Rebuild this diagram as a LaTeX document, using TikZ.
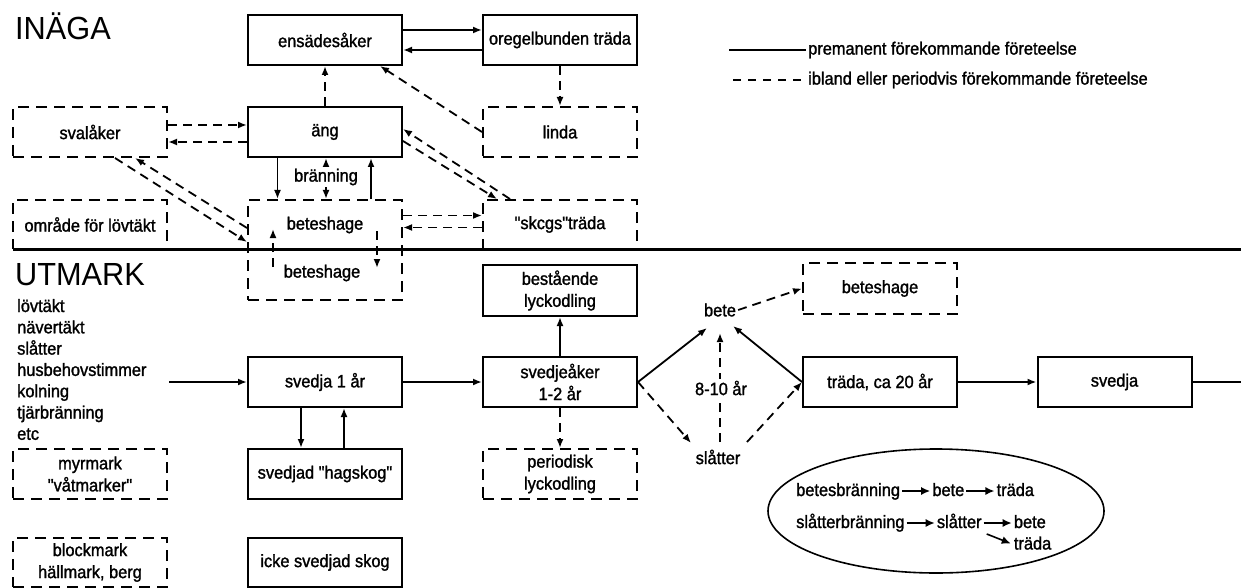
\documentclass[tikz,border=0pt]{standalone}
\usepackage{fontspec}
\setmainfont{Liberation Sans}[FakeStretch=0.92,FakeBold=1.4,Ligatures=TeXOff]
\newfontfamily\hdrfont{Liberation Sans}[FakeStretch=0.96]
\usetikzlibrary{arrows.meta,positioning,calc,shapes.geometric}
\tikzset{
  bx/.style ={draw,line width=2pt,minimum width=154pt,minimum height=50pt,
              align=center,inner sep=2pt,font=\fontsize{17.8}{22}\selectfont},
  dbx/.style={bx,dash pattern=on 11pt off 7pt},
  ar/.style ={-{Latex[length=9pt,width=7pt]},line width=1.8pt},
  dar/.style={ar,dash pattern=on 9pt off 6pt},
  sar/.style={-{Latex[length=9pt,width=8pt]},line width=1.6pt},
  lbl/.style={font=\fontsize{17.8}{22}\selectfont,inner sep=2pt},
  hdr/.style={font=\hdrfont\fontsize{32}{36}\selectfont,inner sep=0pt},
}
\begin{document}
\begin{tikzpicture}[x=1pt,y=-1pt]
  \useasboundingbox (0,0) rectangle (1241,588);
  % inaga
  \node[hdr,anchor=base west] (inaga) at (15,40){INÄGA};
  \node[bx] (ens) at (325,40){ensädesåker};
  \node[bx] (ore) at (560,40){oregelbunden träda};
  \node[dbx] (sval) at (90,132){svalåker};
  \node[bx] (ang) at (325,132){äng};
  \node[dbx] (linda) at (560,132){linda};
  \node[dbx,minimum height=49pt] (omr) at (90,224.5){område för lövtäkt};
  \node[dbx,minimum height=100pt] (bet) at (325,250){};
  \node[lbl] (bet1) at (325,225){beteshage};
  \node[lbl] (bet2) at (322,273){beteshage};
  \node[dbx,minimum height=49pt] (skog) at (560,224.5){"skcgs"träda};
  \node[lbl] (brn) at (326,177){bränning};
  \draw[line width=3pt] (13,249) -- (1241,249);
  % legend
  \coordinate (lg1s) at (729,50);
  \coordinate (lg2s) at (733,80);
  \node[lbl,anchor=west] (lg1) at (806,50){premanent förekommande företeelse};
  \node[lbl,anchor=west] (lg2) at (806,80){ibland eller periodvis förekommande företeelse};
  \draw[line width=1.8pt] (lg1s) -- (lg1.west);
  \draw[line width=1.8pt,dash pattern=on 8pt off 7pt] (lg2s) -- (lg2.west);
  \draw[ar] ($(ens.east)+(0,-10)$) -- ($(ore.west)+(0,-10)$);
  \draw[ar] ($(ore.west)+(0,10)$) -- ($(ens.east)+(0,10)$);
  \draw[dar] ($(sval.east)+(0,-7)$) -- ($(ang.west)+(0,-7)$);
  \draw[dar] ($(ang.west)+(0,10)$) -- ($(sval.east)+(0,10)$);
  \draw[dar] (ang) -- (ens);
  \draw[dar] (ore) -- (linda);
  \draw[dar] (linda.west) -- ($(ens.south)+(55,0)$);
  \draw[dar] ($(skog.north)+(-50,0)$) -- ($(ang.east)+(0,-3)$);
  \draw[dar] ($(ang.east)+(0,9)$) -- ($(skog.north)+(-63,0)$);
  \draw[dar] ($(sval.south)+(25,0)$) -- ($(bet.west)+(0,-8)$);
  \draw[dar] ($(bet.west)+(0,-22)$) -- ($(sval.south)+(45,0)$);
  \draw[ar] ($(ang.south)+(-47.5,0)$) -- ($(bet.north)+(-47.5,0)$);
  \draw[ar] ($(bet.north)+(46,0)$) -- ($(ang.south)+(46,0)$);
  \draw[ar] (brn.north) -- (ang.south -| brn);
  \draw[ar] (brn.south) -- (bet.north -| brn);
  \draw[dar] ($(bet)+(-52,17)$) -- ($(bet)+(-52,-21)$);
  \draw[dar] ($(bet)+(52,-19)$) -- ($(bet)+(52,18)$);
  \draw[dar] ($(skog.west -| bet.east)+(0,-9)$) -- ($(skog.west)+(0,-9)$);
  \draw[dar] ($(skog.west)+(0,3)$) -- ($(skog.west -| bet.east)+(0,3)$);
  % utmark
  \node[hdr,anchor=base west] (utm) at (15,285){UTMARK};
  \foreach \t [count=\i] in {lövtäkt,nävertäkt,slåtter,husbehovstimmer,kolning,tjärbränning,etc}
    \node[lbl,anchor=base west,inner sep=0pt] (use\i) at (17,{312+21.3*(\i-1)}){\t};
  \coordinate (usesout) at (169,382);
  \node[bx] (sv1) at (325,382){svedja 1 år};
  \node[bx,minimum height=51pt] (best) at (560,290.5){bestående\\lyckodling};
  \node[bx] (sva) at (560,382){svedjeåker\\1-2 år};
  \node[bx] (hag) at (325,474){svedjad "hagskog"};
  \node[dbx] (per) at (560,474){periodisk\\lyckodling};
  \node[dbx] (myr) at (90,474){myrmark\\"våtmarker"};
  \node[dbx,minimum height=49pt] (blk) at (90,562.5){blockmark\\hällmark, berg};
  \node[bx,minimum height=49pt] (icke) at (325,562.5){icke svedjad skog};
  \node[lbl] (bete) at (720,310){bete};
  \node[lbl] (slat) at (718,457){slåtter};
  \node[dbx,minimum height=51pt] (bh2) at (880,288.5){beteshage};
  \node[bx] (trada) at (880,382){träda, ca 20 år};
  \node[bx] (sved) at (1114.5,382){svedja};
  \coordinate (ut) at (1250,382);
  \draw[ar] (usesout) -- (sv1);
  \draw[ar] (sv1) -- (sva);
  \draw[ar] (sva) -- (best);
  \draw[dar] (sva) -- (per);
  \draw[ar] ($(sv1.south)+(-24,0)$) -- ($(hag.north)+(-24,0)$);
  \draw[ar] ($(hag.north)+(19,0)$) -- ($(sv1.south)+(19,0)$);
  \draw[ar] (sva.east) -- ($(bete)+(-13,18)$);
  \draw[ar] (trada.west) -- ($(bete)+(13,16)$);
  \draw[dar] (sva.east) -- ($(slat)+(-27,-14)$);
  \draw[dar] ($(slat)+(2,-15)$) -- ($(bete)+(0,23)$);
  \draw[dar] ($(slat)+(29,-15)$) -- (trada.west);
  \draw[dar] (bete.east) -- (bh2.west);
  \draw[ar] (trada) -- (sved);
  \draw[ar] (sved) -- (ut);
  \node[lbl,fill=white] (yrs) at (721,388){8-10 år};
  % ellipse
  \node[ellipse,draw,line width=1.6pt,minimum width=336pt,minimum height=124pt] (ell) at (936,511){};
  \node[lbl,anchor=base west] (eb0) at (794,496){betesbränning};
  \node[lbl,base right=28pt of eb0] (eb1){bete};
  \node[lbl,base right=28pt of eb1] (eb2){träda};
  \node[lbl,anchor=base west] (es0) at (794,528){slåtterbränning};
  \node[lbl,base right=28pt of es0] (es1){slåtter};
  \node[lbl,base right=28pt of es1] (es2){bete};
  \node[lbl,anchor=base west] (es3) at ($(es2.base west)+(0,21.5)$){träda};
  \draw[sar] ($(eb0.base east)+(0,-5)$) -- ($(eb1.base west)+(0,-5)$);
  \draw[sar] ($(eb1.base east)+(0,-5)$) -- ($(eb2.base west)+(0,-5)$);
  \draw[sar] ($(es0.base east)+(0,-5)$) -- ($(es1.base west)+(0,-5)$);
  \draw[sar] ($(es1.base east)+(0,-5)$) -- ($(es2.base west)+(0,-5)$);
  \draw[sar] ($(es1.base east)+(3,6)$) -- ($(es3.base west)+(-1,-6)$);
\end{tikzpicture}
\end{document}
